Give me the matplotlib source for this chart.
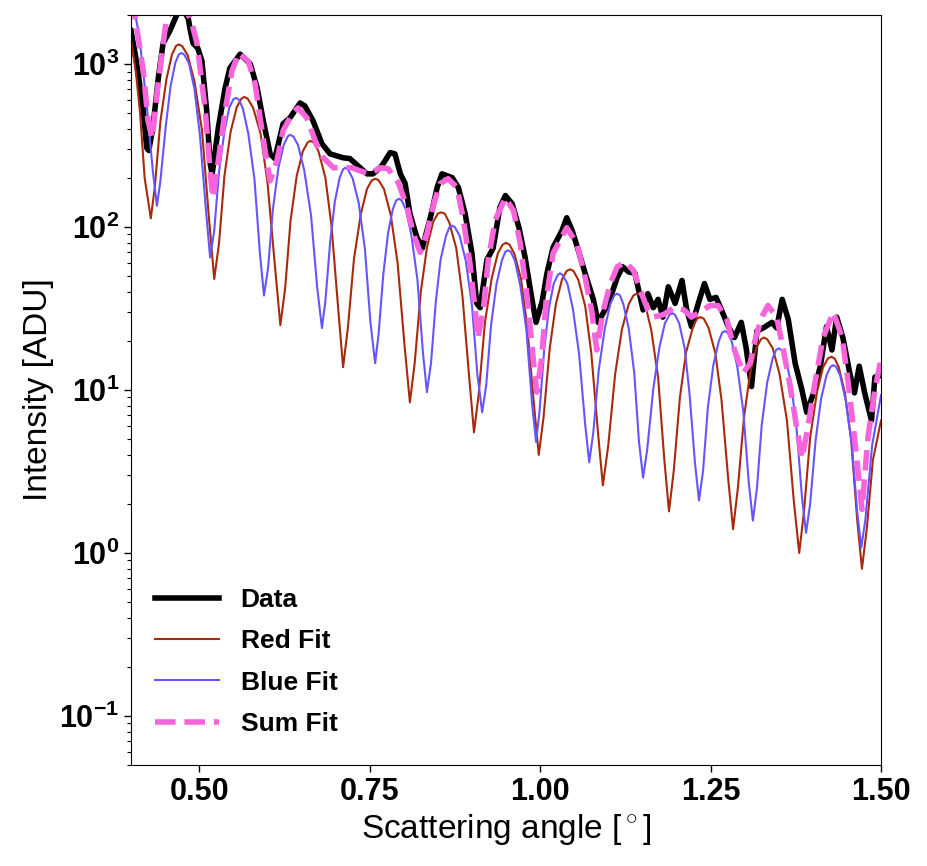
import matplotlib
matplotlib.use("Agg")
import matplotlib.pyplot as plt

plt.rcParams['font.family'] = ['Liberation Sans', 'DejaVu Sans']
plt.rcParams['mathtext.fontset'] = 'custom'
plt.rcParams['mathtext.rm'] = 'Liberation Sans'
plt.rcParams['mathtext.bf'] = 'Liberation Sans:bold'

data_x = [0.400, 0.408, 0.418, 0.423, 0.426, 0.432, 0.440, 0.447, 0.457, 0.467,
          0.473, 0.484, 0.487, 0.491, 0.498, 0.504, 0.511, 0.516, 0.519, 0.528,
          0.538, 0.545, 0.560, 0.575, 0.585, 0.594, 0.604, 0.611, 0.623, 0.633,
          0.648, 0.655, 0.667, 0.680, 0.692, 0.702, 0.711, 0.721, 0.736, 0.746,
          0.755, 0.768, 0.780, 0.787, 0.795, 0.802, 0.809, 0.819, 0.827, 0.839,
          0.849, 0.856, 0.871, 0.880, 0.890, 0.900, 0.907, 0.912, 0.922, 0.931,
          0.941, 0.949, 0.959, 0.969, 0.978, 0.988, 0.994, 1.003, 1.010, 1.019,
          1.032, 1.039, 1.047, 1.056, 1.066, 1.078, 1.085, 1.095, 1.105, 1.113,
          1.121, 1.130, 1.139, 1.151, 1.158, 1.166, 1.173, 1.180, 1.188, 1.198,
          1.208, 1.215, 1.222, 1.232, 1.241, 1.249, 1.258, 1.266, 1.276, 1.285,
          1.295, 1.302, 1.310, 1.318, 1.327, 1.340, 1.347, 1.355, 1.364, 1.374,
          1.384, 1.391, 1.401, 1.411, 1.420, 1.428, 1.435, 1.444, 1.454, 1.461,
          1.468, 1.476, 1.486, 1.491, 1.500]
data_y = [1600, 1040, 516, 306, 295, 406, 820, 1340, 1600, 2000,
          2300, 1900, 1600, 1340, 1250, 1040, 516, 245, 212, 406,
          713, 945, 1150, 1000, 713, 448, 281, 263, 430, 467,
          577, 553, 448, 324, 281, 273, 266, 263, 231, 212,
          212, 238, 286, 281, 212, 185, 121, 87, 74, 114,
          175, 212, 201, 175, 121, 69, 34, 32, 63, 74,
          132, 156, 139, 99, 65, 36, 26, 35, 52, 75,
          95, 114, 95, 72, 52, 36, 26, 31, 39, 49,
          57, 53, 52, 31, 39, 32, 36, 28, 43, 34,
          47, 31, 24.5, 34, 45, 36, 37, 31, 24.5, 21,
          26, 18.3, 10.5, 23, 24, 26, 24, 36, 27, 14.6,
          10, 7.3, 9.6, 14, 24.5, 17.6, 28, 21, 12.8, 9.6,
          14, 9.6, 6.5, 12, 12.3]

# Red fit
red_x = [0.400, 0.407, 0.413, 0.420, 0.429,
         0.435, 0.443, 0.452, 0.460, 0.466, 0.470,
         0.475, 0.483, 0.493, 0.504, 0.514, 0.522,
         0.529, 0.537, 0.546, 0.555, 0.562, 0.566,
         0.571, 0.579, 0.590, 0.600, 0.611, 0.619,
         0.626, 0.634, 0.643, 0.652, 0.659, 0.663,
         0.668, 0.675, 0.685, 0.694, 0.704, 0.711,
         0.718, 0.727, 0.737, 0.746, 0.753, 0.758,
         0.763, 0.771, 0.781, 0.791, 0.801, 0.809,
         0.816, 0.825, 0.834, 0.843, 0.850, 0.855,
         0.860, 0.867, 0.877, 0.886, 0.896, 0.903,
         0.910, 0.919, 0.929, 0.938, 0.945, 0.950,
         0.955, 0.962, 0.972, 0.981, 0.991, 0.998,
         1.005, 1.014, 1.023, 1.032, 1.039, 1.044,
         1.049, 1.056, 1.066, 1.075, 1.085, 1.092,
         1.100, 1.110, 1.120, 1.130, 1.137, 1.142,
         1.147, 1.154, 1.163, 1.173, 1.182, 1.189,
         1.196, 1.205, 1.214, 1.224, 1.230, 1.235,
         1.240, 1.247, 1.257, 1.266, 1.276, 1.283,
         1.290, 1.299, 1.308, 1.317, 1.324, 1.328,
         1.333, 1.341, 1.351, 1.362, 1.372, 1.380,
         1.387, 1.396, 1.406, 1.415, 1.422, 1.427,
         1.432, 1.438, 1.447, 1.456, 1.465, 1.472,
         1.479, 1.488, 1.500]
red_y = [1400, 900, 515, 200, 113,
         178, 443, 811, 1144, 1291, 1320,
         1289, 1134, 783, 395, 117, 48,
         79, 206, 383, 543, 614, 628,
         614, 540, 374, 190, 58, 25,
         42, 110, 206, 292, 330, 338,
         330, 291, 201, 102, 31, 13.8,
         24, 64, 120, 171, 193, 198,
         194, 171, 118, 60, 19, 8.4,
         14.6, 40, 75, 107, 121, 123,
         121, 106, 74, 38, 11.9, 5.5,
         9.5, 25.8, 48.6, 69, 78, 80,
         78, 69, 48, 24.7, 8.1, 4.0,
         6.8, 17.9, 33.5, 47.6, 53.8, 55,
         53.7, 47.4, 32.9, 16.9, 5.4, 2.6,
         4.6, 12.5, 23.6, 33.7, 38.1, 39,
         38.1, 33.6, 23.3, 12.0, 3.8, 1.8,
         3.2, 9.0, 17.0, 24.2, 27.4, 28,
         27.4, 24.1, 16.8, 8.7, 2.8, 1.4,
         2.5, 6.8, 12.7, 18.1, 20.5, 21,
         20.5, 18.1, 12.6, 6.5, 2.1, 1.0,
         1.8, 5.1, 9.7, 13.8, 15.6, 16,
         15.6, 13.8, 9.6, 5.0, 1.6, 0.8,
         1.4, 3.7, 6.5]

# Blue fit
blue_x = [0.400, 0.412, 0.423, 0.432, 0.438,
          0.443, 0.451, 0.458, 0.465, 0.470, 0.474,
          0.478, 0.485, 0.493, 0.501, 0.510, 0.516,
          0.522, 0.529, 0.537, 0.544, 0.550, 0.554,
          0.558, 0.564, 0.572, 0.581, 0.589, 0.595,
          0.601, 0.608, 0.616, 0.624, 0.630, 0.633,
          0.638, 0.645, 0.654, 0.664, 0.673, 0.680,
          0.685, 0.692, 0.699, 0.706, 0.711, 0.714,
          0.718, 0.725, 0.734, 0.743, 0.751, 0.758,
          0.763, 0.770, 0.777, 0.784, 0.789, 0.793,
          0.797, 0.803, 0.811, 0.820, 0.828, 0.834,
          0.840, 0.847, 0.854, 0.862, 0.867, 0.871,
          0.875, 0.882, 0.891, 0.900, 0.908, 0.915,
          0.921, 0.928, 0.936, 0.944, 0.949, 0.953,
          0.957, 0.963, 0.971, 0.980, 0.988, 0.994,
          0.999, 1.006, 1.013, 1.020, 1.026, 1.029,
          1.033, 1.040, 1.048, 1.057, 1.066, 1.072,
          1.078, 1.086, 1.095, 1.103, 1.109, 1.113,
          1.117, 1.122, 1.130, 1.138, 1.145, 1.151,
          1.157, 1.166, 1.175, 1.183, 1.190, 1.194,
          1.198, 1.204, 1.212, 1.219, 1.227, 1.233,
          1.239, 1.246, 1.254, 1.262, 1.267, 1.271,
          1.275, 1.281, 1.289, 1.298, 1.306, 1.312,
          1.318, 1.325, 1.333, 1.341, 1.346, 1.350,
          1.354, 1.360, 1.368, 1.376, 1.384, 1.390,
          1.396, 1.404, 1.412, 1.420, 1.426, 1.430,
          1.434, 1.440, 1.448, 1.457, 1.465, 1.471,
          1.477, 1.487, 1.500]
blue_y = [2700, 1500, 560, 220, 135,
          191, 418, 733, 1019, 1145, 1170,
          1143, 1009, 704, 367, 125, 65,
          95, 217, 386, 539, 607, 620,
          606, 535, 374, 197, 69, 38,
          56, 128, 229, 320, 360, 368,
          360, 318, 223, 118, 42.6, 24,
          35, 80.5, 144, 201, 226, 231,
          226, 199, 140, 73.6, 26.3, 14.6,
          21.9, 51.2, 92, 129, 145.8, 149,
          145.4, 128.4, 90, 47.7, 17.2, 9.7,
          14.7, 34.9, 63, 88.5, 99.8, 102,
          99.7, 88.2, 62, 33.1, 12.4, 7.3,
          10.8, 25, 44.7, 62.6, 70.5, 72,
          70.4, 62.2, 43.6, 23.1, 8.4, 4.8,
          7.3, 17.7, 32.1, 45.1, 50.9, 52,
          50.8, 44.9, 31.6, 16.8, 6.2, 3.6,
          5.5, 13.3, 24.1, 33.8, 38.2, 39,
          38.1, 33.7, 23.8, 12.8, 4.8, 2.9,
          4.3, 10.2, 18.3, 25.7, 29, 29.6,
          28.9, 25.6, 18, 9.6, 3.6, 2.1,
          3.2, 7.8, 14.2, 19.9, 22.5, 23,
          22.5, 19.9, 14, 7.4, 2.7, 1.58,
          2.5, 6.1, 11.1, 15.6, 17.6, 18,
          17.6, 15.6, 11, 5.9, 2.2, 1.33,
          2.0, 4.9, 8.8, 12.3, 13.9, 14.2,
          13.9, 12.3, 8.7, 4.7, 1.8, 1.08,
          1.6, 4.6, 9.3]

# Sum fit
sum_x = [0.400, 0.410, 0.418, 0.425, 0.431, 0.438, 0.447, 0.452, 0.472, 0.489,
         0.497, 0.509, 0.516, 0.520, 0.528, 0.538, 0.548, 0.558, 0.572, 0.582,
         0.592, 0.599, 0.604, 0.614, 0.623, 0.636, 0.645, 0.658, 0.670, 0.682,
         0.697, 0.711, 0.724, 0.736, 0.751, 0.765, 0.777, 0.792, 0.805, 0.814,
         0.824, 0.834, 0.844, 0.853, 0.865, 0.878, 0.887, 0.897, 0.905, 0.909,
         0.917, 0.924, 0.934, 0.949, 0.961, 0.971, 0.981, 0.990, 0.995, 1.002,
         1.009, 1.019, 1.039, 1.054, 1.066, 1.076, 1.083, 1.092, 1.103, 1.113,
         1.125, 1.137, 1.147, 1.158, 1.166, 1.181, 1.196, 1.211, 1.222, 1.234,
         1.249, 1.261, 1.274, 1.285, 1.298, 1.308, 1.315, 1.325, 1.334, 1.347,
         1.356, 1.366, 1.376, 1.384, 1.393, 1.403, 1.415, 1.430, 1.443, 1.452,
         1.462, 1.472, 1.481, 1.491, 1.500]
sum_y = [2800, 1500, 906, 448, 350, 656, 1320, 1900, 2600, 1800,
         1320, 516, 221, 151, 255, 516, 906, 1170, 1040, 755,
         390, 255, 192, 255, 390, 494, 538, 467, 338, 266,
         231, 231, 231, 221, 212, 231, 228, 187, 132, 91,
         70, 91, 139, 184, 198, 175, 114, 60, 30, 20.8,
         32, 63, 110, 151, 126, 79, 37, 15.3, 9.7, 15.3,
         36, 69, 99, 79, 49, 30, 17.6, 30, 45, 57,
         61, 54, 41, 31, 28, 29, 32, 31, 28, 30,
         33, 33, 27, 17.6, 12.7, 14.6, 20, 28, 33, 28,
         18.3, 11, 6, 3.8, 6, 11, 21, 30, 21, 11,
         4.7, 1.85, 5.2, 10, 15.5]

x_ticks = [0.50, 0.75, 1.00, 1.25, 1.50]
x_ticklabels = ['0.50', '0.75', '1.00', '1.25', '1.50']
y_ticks = [0.1, 1, 10, 100, 1000]
y_ticklabels = [r'$\mathbf{10^{-1}}$', r'$\mathbf{10^{0}}$', r'$\mathbf{10^{1}}$',
                r'$\mathbf{10^{2}}$', r'$\mathbf{10^{3}}$']

fig = plt.figure(figsize=(9.28, 8.66), dpi=100)
ax = fig.add_axes([0.1412, 0.1166, 0.8082, 0.8661])

ax.plot(data_x, data_y, color='black', lw=4, label='Data')
ax.plot(red_x, red_y, color='#a82a0c', lw=1.5, label='Red Fit')
ax.plot(blue_x, blue_y, color='#6655ff', lw=1.5, label='Blue Fit')
ax.plot(sum_x, sum_y, color='#f864dc', lw=4, ls='--', label='Sum Fit')

ax.set_yscale('log')
ax.set_xlim(0.4, 1.5)
ax.set_ylim(0.05, 2000)

ax.set_xticks(x_ticks)
ax.set_xticklabels(x_ticklabels, fontsize=22, fontweight='bold')
ax.set_yticks(y_ticks)
ax.set_yticklabels(y_ticklabels, fontsize=22)
ax.tick_params(axis='both', which='major', length=5, width=1)
ax.tick_params(axis='y', which='minor', length=3, width=0.8)

ax.set_xlabel(r'Scattering angle [$^\circ$]', fontsize=24)
ax.set_ylabel('Intensity [ADU]', fontsize=24)

ax.legend(loc='lower left', bbox_to_anchor=(0, 0.007), frameon=False,
          prop={'size': 19, 'weight': 'bold'},
          handlelength=2.45, labelspacing=0.66)

fig.savefig('out.png', dpi=100)
